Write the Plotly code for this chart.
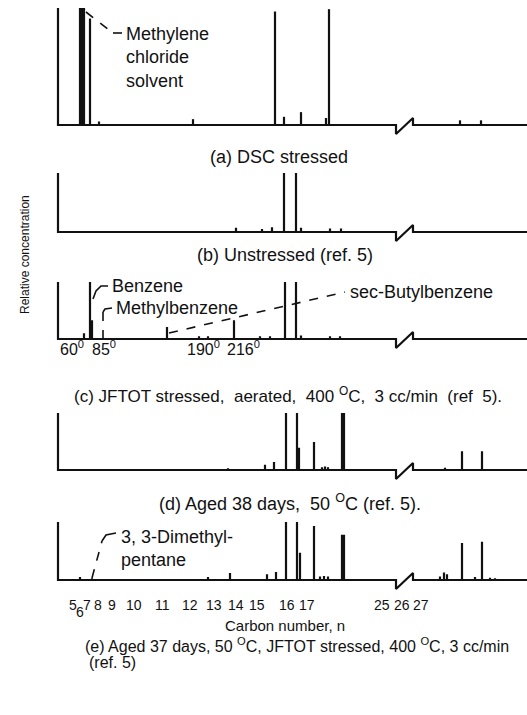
import plotly.graph_objects as go

W, H = 527, 715

# retention position (px along the trace) and relative height of each peak, per chromatogram
a_pos = [80, 82, 84, 90, 99, 193, 275, 284, 301, 326, 329, 460, 481]
a_height = [1.0, 1.0, 1.0, 0.91, 0.03, 0.05, 0.97, 0.07, 0.11, 0.06, 0.99, 0.04, 0.04]

b_pos = [236, 262, 272, 284, 296, 301, 330, 341]
b_height = [0.07, 0.05, 0.08, 1.0, 1.0, 0.07, 0.06, 0.06]

c_pos = [84, 90, 92, 167, 199, 208, 234, 260, 270, 285, 296, 301, 330, 340]
c_height = [0.10, 1.0, 0.33, 0.21, 0.05, 0.05, 0.33, 0.05, 0.05, 1.0, 1.0, 0.06, 0.05, 0.05]

d_pos = [228, 265, 274, 286, 297, 299, 314, 322, 325, 328, 342, 344, 445, 462, 482]
d_height = [0.03, 0.09, 0.14, 1.0, 1.0, 0.39, 0.49, 0.05, 0.06, 0.05, 1.0, 1.0, 0.04, 0.33, 0.33]

e_pos = [80, 92, 208, 230, 267, 276, 286, 297, 300, 314, 320, 324, 328, 342, 344,
         440, 444, 447, 462, 475, 482, 490, 495]
e_height = [0.05, 0.03, 0.05, 0.12, 0.10, 0.14, 1.0, 1.0, 0.47, 0.93, 0.06, 0.07, 0.06, 0.78, 0.78,
            0.06, 0.13, 0.10, 0.64, 0.05, 0.66, 0.04, 0.03]

panel_titles = [
    "(a) DSC stressed",
    "(b) Unstressed (ref. 5)",
    "(c) JFTOT stressed,  aerated,  400 <sup>O</sup>C,  3 cc/min  (ref  5).",
    "(d) Aged 38 days,  50 <sup>O</sup>C (ref. 5).",
    "(e) Aged 37 days, 50 <sup>O</sup>C, JFTOT stressed, 400 <sup>O</sup>C, 3 cc/min",
]
e_title_cont = "(ref. 5)"

temp_labels = ["60<sup>0</sup>", "85<sup>0</sup>", "190<sup>0</sup>", "216<sup>0</sup>"]
temp_x = [58, 90, 185, 225]

carbon_labels = ["5", "6", "7", "8", "9", "10", "11", "12", "13", "14", "15", "16", "17", "25", "26", "27"]
carbon_x = [73, 80, 87, 98, 112, 134, 162, 190, 214, 236, 257, 287, 307, 382, 402, 421]

peaks = [(a_pos, a_height), (b_pos, b_height), (c_pos, c_height), (d_pos, d_height), (e_pos, e_height)]

# layout in pixels
panel_top = [8, 173, 282, 413, 522]
panel_base = [125, 232, 339, 470, 580]
title_xy = [(279, 157, "center", 18), (285, 255, "center", 18), (72, 395, "left", 17),
            (290, 502, "center", 18), (83, 645, "left", 16)]
AXIS_X, BREAK_X0, BREAK_X1 = 58, 396, 413
YLO, YHI = -0.3, 1.06
FONT = "Liberation Sans, Arial, sans-serif"
INK = "#111"


def xp(px):
    return px / W


def yp(px):
    return 1 - px / H


fig = go.Figure()
layout_axes = {}
for i, (pos, hgt) in enumerate(peaks):
    top, base = panel_top[i], panel_base[i]
    h = base - top
    yname = "y" if i == 0 else f"y{i + 1}"
    lname = "yaxis" if i == 0 else f"yaxis{i + 1}"
    layout_axes[lname] = dict(
        domain=[yp(base - YLO * h), yp(top - (YHI - 1) * h)],
        range=[YLO, YHI], visible=False, anchor="x", fixedrange=True,
    )

    xs, ys = [], []
    for p, v in zip(pos, hgt):
        xs += [p, p, None]
        ys += [0, v, None]
    fig.add_trace(go.Scatter(x=xs, y=ys, yaxis=yname, mode="lines",
                             line=dict(color=INK, width=2.2), hoverinfo="skip", showlegend=False))

    # y axis stroke, baseline and the break mark
    fig.add_trace(go.Scatter(
        x=[AXIS_X, AXIS_X, BREAK_X0, BREAK_X0, BREAK_X1, BREAK_X1, W],
        y=[1, 0, 0, -9 / h, 7 / h, 0, 0],
        yaxis=yname, mode="lines", line=dict(color=INK, width=2.2),
        hoverinfo="skip", showlegend=False,
    ))

annotations = []


def text(x, y, s, size=18, anchor="left", **kw):
    annotations.append(dict(x=xp(x), y=yp(y), xref="paper", yref="paper", text=s, showarrow=False,
                            xanchor=anchor, yanchor="middle", align="left",
                            font=dict(family=FONT, size=size, color=INK), **kw))


for (x, y, anchor, size), t in zip(title_xy, panel_titles):
    text(x, y, t, size=size, anchor=anchor)
text(87, 662, e_title_cont, size=16)

for s, x in zip(temp_labels, temp_x):
    text(x, 348, s, size=16)

for s, x in zip(carbon_labels, carbon_x):
    text(x, 605, s, size=14, anchor="center", yshift=-7 if s == "6" else 0)

text(285, 625, "Carbon number, n", size=15, anchor="center")
text(25, 255, "Relative concentration", size=12, anchor="center", textangle=-90)

# peak identifications
text(124, 58, "Methylene<br>chloride<br>solvent")
text(110, 286, "Benzene")
text(114, 308, "Methylbenzene")
text(348, 292, "sec-Butylbenzene")
text(119, 548, "3, 3-Dimethyl-<br>pentane")

shapes = []


def leader(pts, dash="dash"):
    path = "M " + " L ".join(f"{xp(x)},{yp(y)}" for x, y in pts)
    shapes.append(dict(type="path", path=path, xref="paper", yref="paper",
                       line=dict(color=INK, width=1.6, dash=dash)))


leader([(86, 12), (113, 33)])
leader([(113, 33), (122, 33)], dash="solid")
leader([(93, 299), (96, 291), (101, 286), (108, 286)], dash="solid")
leader([(103, 339), (103, 312)])
leader([(103, 312), (105, 309), (112, 308)], dash="solid")
leader([(169, 333), (345, 292)])
leader([(92, 578), (102, 541)])
leader([(102, 541), (106, 535), (116, 533)], dash="solid")

fig.update_layout(
    width=W, height=H,
    margin=dict(l=0, r=0, t=0, b=0),
    paper_bgcolor="white", plot_bgcolor="white",
    xaxis=dict(domain=[0, 1], range=[0, W], visible=False, fixedrange=True),
    annotations=annotations, shapes=shapes,
    showlegend=False,
    **layout_axes,
)

fig.write_html("out.html", config={"displayModeBar": False},
               post_script="document.body.style.margin='0';")
